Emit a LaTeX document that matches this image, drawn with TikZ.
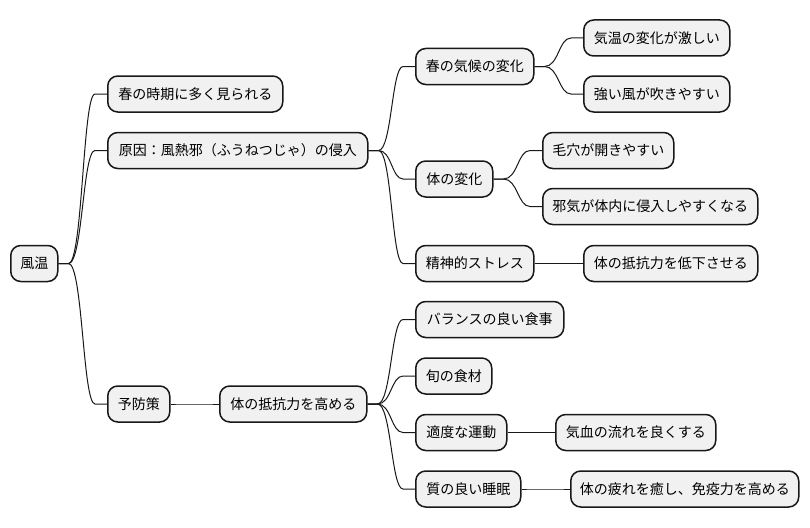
\documentclass[tikz,border=0pt]{standalone}
\usepackage{fontspec}
\setmainfont{Noto Sans CJK JP}
\usetikzlibrary{calc}
\definecolor{boxfill}{HTML}{F1F1F1}
\definecolor{ink}{HTML}{181818}
\tikzset{
  mm/.style={draw=ink, fill=boxfill, line width=1.5pt, rounded corners=10pt,
    minimum height=36pt, inner sep=0pt, font=\fontsize{14}{16}\selectfont, text=black},
  link/.style={draw=ink, line width=1pt},
}
\newcommand\mmnode[5]{\node[mm, minimum width=#4pt, anchor=west] (#1) at (#3,#5) {#2};}
\newcommand\mmlink[2]{\draw[link] let \p1=(#1.east), \p2=(#2.west) in
  (\p1) -- (\x1+10pt,\y1)
  .. controls ({(\x1+\x2)/2},\y1) and ({(\x1+\x2)/2},\y2) ..
  (\x2-12pt,\y2) -- (\p2);}
\begin{document}
\begin{tikzpicture}[x=1pt,y=-1pt]
\useasboundingbox (0,0) rectangle (810,527);
% nodes: name, text, left, width, center y
\mmnode{n0}{風温}{10}{47}{263.5}
\mmnode{a1}{春の時期に多く見られる}{107}{175}{94}
\mmnode{a2}{原因：風熱邪（ふうねつじゃ）の侵入}{107}{260}{150.5}
\mmnode{a3}{予防策}{107}{62}{404}
\mmnode{b1}{春の気候の変化}{415}{118}{66.5}
\mmnode{b2}{体の変化}{415}{77}{179}
\mmnode{b3}{精神的ストレス}{415}{118}{263.5}
\mmnode{c1}{気温の変化が激しい}{583}{146}{38}
\mmnode{c2}{強い風が吹きやすい}{583}{146}{94}
\mmnode{c3}{毛穴が開きやすい}{542}{131}{150.5}
\mmnode{c4}{邪気が体内に侵入しやすくなる}{542}{215}{206.5}
\mmnode{c5}{体の抵抗力を低下させる}{583}{174}{263.5}
\mmnode{d1}{体の抵抗力を高める}{219}{147}{404}
\mmnode{e1}{バランスの良い食事}{415}{148}{319.5}
\mmnode{e2}{旬の食材}{415}{76}{376}
\mmnode{e3}{適度な運動}{415}{91}{432.5}
\mmnode{e4}{質の良い睡眠}{415}{105}{489}
\mmnode{f1}{気血の流れを良くする}{555}{160}{432.5}
\mmnode{f2}{体の疲れを癒し、免疫力を高める}{570}{228}{489}
% links
\mmlink{n0}{a1}
\mmlink{n0}{a2}
\mmlink{n0}{a3}
\mmlink{a2}{b1}
\mmlink{a2}{b2}
\mmlink{a2}{b3}
\mmlink{b1}{c1}
\mmlink{b1}{c2}
\mmlink{b2}{c3}
\mmlink{b2}{c4}
\mmlink{b3}{c5}
\mmlink{a3}{d1}
\mmlink{d1}{e1}
\mmlink{d1}{e2}
\mmlink{d1}{e3}
\mmlink{d1}{e4}
\mmlink{e3}{f1}
\mmlink{e4}{f2}
\end{tikzpicture}
\end{document}
